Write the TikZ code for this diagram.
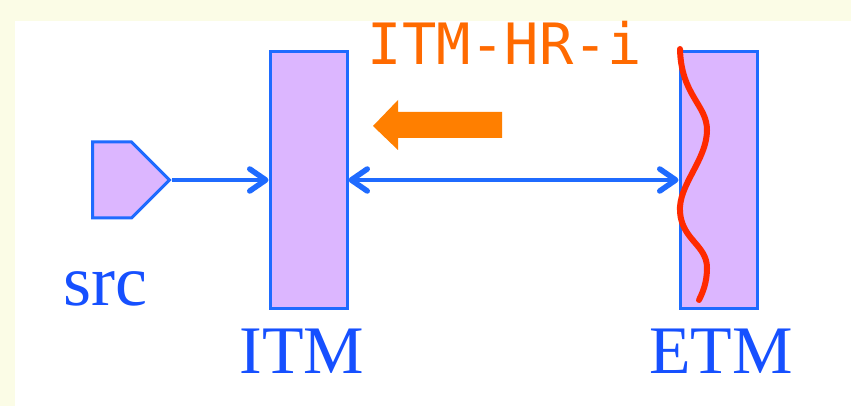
\documentclass[tikz,border=0pt]{standalone}
\usepackage{fontspec}
\setmainfont{Liberation Serif}
\newfontfamily\monofont{DejaVu Sans Mono}
\usetikzlibrary{arrows.meta,shapes.symbols}

\definecolor{paper}{HTML}{FBFCE6}
\definecolor{edgeblue}{HTML}{1F6BFF}
\definecolor{labelblue}{HTML}{1650FF}
\definecolor{boxfill}{HTML}{DCB6FF}
\definecolor{hrorange}{HTML}{FF6A00}
\definecolor{pusharrow}{HTML}{FF7F00}
\definecolor{wavered}{HTML}{FF2A00}

\tikzset{
  unit/.style={draw=edgeblue, fill=boxfill, line width=3pt, inner sep=0pt,
               minimum width=77pt, minimum height=256pt},
  source/.style={signal, signal to=east, signal pointer angle=90,
                 draw=edgeblue, fill=boxfill, line width=3pt, inner sep=0pt,
                 minimum width=77pt, minimum height=76pt, line join=miter},
  barb/.tip={Straight Barb[length=16pt, width=22pt, line width=5.5pt, round]},
  link/.style={draw=edgeblue, line width=3.4pt},
  caption/.style={text=labelblue, font=\fontsize{68}{70}\selectfont, inner sep=0pt, anchor=base},
}

\begin{document}
\begin{tikzpicture}[x=1pt, y=-1pt]
  % page background with the white panel
  \fill[paper] (0,0) rectangle (851,406);
  \fill[white] (14.5,21.5) rectangle (851,406);
  \useasboundingbox (0,0) rectangle (851,406);

  % blocks
  \node[source, anchor=west] (src) at (91,180) {};
  \node[unit] (itm) at (308.5,180) {};
  \node[unit] (etm) at (718.5,180) {};

  % connectors
  \draw[link, -{barb}] (src.east) -- (itm.west);
  \draw[link, {barb}-{barb}] (itm.east) -- (etm.west);

  % wavy boundary through the ETM block
  \draw[wavered, line width=6pt, line cap=round]
    (680,49) .. controls (681,95) and (707,105) .. (707,130)
             .. controls (707,160) and (678,185) .. (680,212)
             .. controls (682,240) and (707,245) .. (707,268)
             .. controls (707,282) and (703,292) .. (699,300);

  % push-back arrow
  \fill[pusharrow] (502,112) -- (398,112) -- (398,100) -- (373,126) -- (398,150) -- (398,138) -- (502,138) -- cycle;

  % labels
  \node[text=hrorange, font=\monofont\fontsize{57}{59}\selectfont, inner sep=0pt, anchor=base] (hr) at (505,65) {ITM-HR-i};
  \node[caption] (srclabel) at (105,305) {\fontsize{72}{74}\selectfont src};
  \node[caption] (itmlabel) at (302,373) {ITM};
  \node[caption] (etmlabel) at (721,373) {ETM};
\end{tikzpicture}
\end{document}
